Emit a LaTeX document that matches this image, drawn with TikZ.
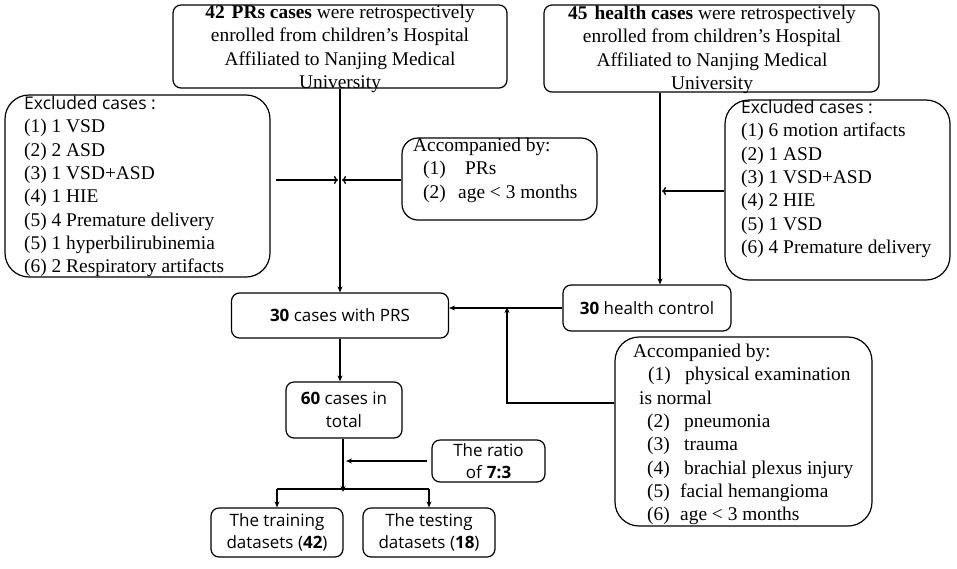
\documentclass[tikz,border=0pt]{standalone}
\usepackage{fontspec}
\setmainfont{Liberation Serif}
\newfontfamily\yahei{Open Sans}
\usetikzlibrary{arrows.meta}

\begin{document}
\begin{tikzpicture}[x=1pt,y=-1pt,
    box/.style={draw, line width=1.2pt, rounded corners=8pt, inner sep=0pt},
    bigbox/.style={draw, line width=1.2pt, rounded corners=24pt, inner sep=0pt},
    txt/.style={inner sep=0pt, font=\fontsize{19.4}{23.3}\selectfont},
    stxt/.style={font=\yahei\fontsize{17}{22.5}\selectfont, align=center},
    arr/.style={-{Stealth[length=6pt,width=5pt]}, line width=1.3pt},
    tarr/.style={-{To[length=4pt,width=8pt]}, line width=1.3pt}
]
    \fill[white] (0,0) rectangle (957,568);
    \useasboundingbox (0,0) rectangle (957,568);

    % enrolment boxes
    \node[box, minimum width=334pt, minimum height=83pt] (prs) at (340,46.5) {};
    \node[txt, align=center, anchor=north] (prstxt) at (340,5) {\textbf{42\hspace{7pt}PRs cases} were retrospectively\\ enrolled from children's Hospital\\ Affiliated to Nanjing Medical\\ University};
    \node[box, minimum width=335pt, minimum height=87pt] (hlt) at (711.5,48.5) {};
    \node[txt, align=center, anchor=north] (hlttxt) at (712,6) {\textbf{45\hspace{7pt}health cases} were retrospectively\\ enrolled from children's Hospital\\ Affiliated to Nanjing Medical\\ University};

    % exclusion boxes
    \node[bigbox, minimum width=265pt, minimum height=182pt] (exclL) at (137.5,186) {};
    \node[txt, align=left, anchor=north west] (exclLtxt) at (24,96) {{\yahei\fontsize{17.5}{23}\selectfont Excluded cases :}\\ (1) 1 VSD\\ (2) 2 ASD\\ (3) 1 VSD+ASD\\ (4) 1 HIE\\ (5) 4 Premature delivery\\ (5) 1 hyperbilirubinemia\\ (6) 2 Respiratory artifacts};
    \node[bigbox, minimum width=225pt, minimum height=180pt] (exclR) at (837.5,190) {};
    \node[txt, align=left, anchor=north west] (exclRtxt) at (741,100) {{\yahei\fontsize{17.5}{23}\selectfont Excluded cases :}\\ (1) 6 motion artifacts\\ (2) 1 ASD\\ (3) 1 VSD+ASD\\ (4) 2 HIE\\ (5) 1 VSD\\ (6) 4 Premature delivery};

    % accompanied boxes
    \node[box, rounded corners=16pt, minimum width=195pt, minimum height=82pt] (accL) at (499.5,179) {};
    \node[txt, align=left, anchor=north west] (accLtxt) at (413,138) {Accompanied by:\\ \hspace*{10pt}\makebox[42pt][l]{(1)}PRs\\ \hspace*{10pt}\makebox[35pt][l]{(2)}age < 3 months};
    \node[bigbox, minimum width=257pt, minimum height=189pt] (accR) at (743.5,431.5) {};
    \node[txt, align=left, anchor=north west] (accRtxt) at (633,344) {Accompanied by:\\ \hspace*{15pt}\makebox[37pt][l]{(1)}physical examination\\ \hspace*{6pt}is normal\\ \hspace*{14pt}\makebox[37pt][l]{(2)}pneumonia\\ \hspace*{14pt}\makebox[37pt][l]{(3)}trauma\\ \hspace*{14pt}\makebox[37pt][l]{(4)}brachial plexus injury\\ \hspace*{14pt}\makebox[33pt][l]{(5)}facial hemangioma\\ \hspace*{14pt}\makebox[33pt][l]{(6)}age < 3 months};

    % cohort boxes
    \node[box, stxt, minimum width=217pt, minimum height=45pt] (prs30) at (340,315.5) {\textbf{30} cases with PRS};
    \node[box, stxt, minimum width=168pt, minimum height=46pt] (hc) at (647,308) {\textbf{30} health control};
    \node[box, stxt, minimum width=116pt, minimum height=56pt] (tot) at (344,410) {\textbf{60} cases in\\ total};
    \node[box, stxt, minimum width=113pt, minimum height=42pt] (ratio) at (488.5,461) {The ratio\\ of \textbf{7:3}};
    \node[box, stxt, minimum width=132pt, minimum height=49pt] (train) at (277,532.5) {The training\\ datasets (\textbf{42})};
    \node[box, stxt, minimum width=132pt, minimum height=49pt] (test) at (429,532.5) {The testing\\ datasets (\textbf{18})};

    % connectors
    \coordinate (jL) at (340,180);
    \coordinate (jR) at (660,191);
    \coordinate (jB) at (507,403);
    \coordinate (sp) at (343,489);
    \draw[arr] (prs.south) -- (prs.south |- prs30.north);
    \draw[tarr] ([xshift=5pt]exclL.east |- jL) -- ([xshift=-2pt]jL);
    \draw[tarr] (accL.west |- jL) -- ([xshift=2pt]jL);
    \draw[arr] (jR |- hlt.south) -- (jR |- hc.north);
    \draw[tarr] (exclR.west |- jR) -- ([xshift=2pt]jR);
    \draw[arr] (hc.west) -- (prs30.east |- hc.west);
    \draw[arr] (accR.west |- jB) -- (jB) -- ([yshift=1pt]jB |- hc.west);
    \draw[arr] (prs30.south) -- (prs30.south |- tot.north);
    \draw[arr] (tot.south -| sp) -- ([yshift=-3pt]sp);
    \draw[arr] ([xshift=-4pt]ratio.west) -- ([xshift=3pt]sp |- ratio.west);
    \draw[line width=1.3pt] (train.north |- sp) -- (test.north |- sp);
    \draw[arr] (train.north |- sp) -- (train.north);
    \draw[arr] (test.north |- sp) -- (test.north);
\end{tikzpicture}
\end{document}
